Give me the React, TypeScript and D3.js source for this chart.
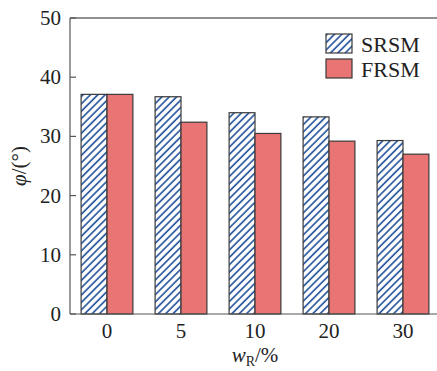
import * as d3 from "d3";

const categories = ["0", "5", "10", "20", "30"];
const seriesNames = ["SRSM", "FRSM"];
const srsmValues = [37.1, 36.7, 34.0, 33.3, 29.3];
const frsmValues = [37.1, 32.4, 30.5, 29.2, 27.0];
const yTicks = [0, 10, 20, 30, 40, 50];

const W = 437;
const H = 371;
const margin = { top: 18, right: -3, bottom: 57, left: 70 };
const FONT = '"Liberation Serif", "Times New Roman", Times, serif';
const RED = "#e87474";
const BLUE = "#1f4f9a";
const EDGE = "#3a3a3a";

export default function App() {
  const x0 = d3
    .scaleBand<string>()
    .domain(categories)
    .range([margin.left, W - margin.right])
    .paddingInner(0.3)
    .paddingOuter(0.15);
  const x1 = d3
    .scaleBand<string>()
    .domain(seriesNames)
    .range([0, x0.bandwidth()]);
  const y = d3
    .scaleLinear()
    .domain([0, 50])
    .range([H - margin.bottom, margin.top]);

  const series = [srsmValues, frsmValues];
  const fills = ["url(#hatch)", RED];

  return (
    <svg
      width={W}
      height={H}
      style={{ position: "absolute", left: 0, top: 0, background: "#fff", fontFamily: FONT }}
    >
      <defs>
        <pattern
          id="hatch"
          patternUnits="userSpaceOnUse"
          width={5.2}
          height={5.2}
          patternTransform="rotate(45)"
        >
          <rect width={5.2} height={5.2} fill="#fff" />
          <line x1={1} y1={0} x2={1} y2={5.2} stroke={BLUE} strokeWidth={1.6} />
        </pattern>
      </defs>

      {/* bars */}
      {categories.map((c, i) =>
        seriesNames.map((s, k) => {
          const v = series[k][i];
          return (
            <rect
              key={c + s}
              x={(x0(c) ?? 0) + (x1(s) ?? 0)}
              y={y(v)}
              width={x1.bandwidth()}
              height={y(0) - y(v)}
              fill={fills[k]}
              stroke={EDGE}
              strokeWidth={1.2}
            />
          );
        })
      )}

      {/* axes frame */}
      <line x1={margin.left} x2={margin.left} y1={y(0)} y2={y(50)} stroke="#555" strokeWidth={1.2} />
      <line x1={margin.left} x2={W} y1={y(0)} y2={y(0)} stroke="#555" strokeWidth={1.2} />
      <line x1={margin.left} x2={W} y1={y(50)} y2={y(50)} stroke="#222" strokeWidth={1.2} />

      {/* y ticks */}
      {yTicks.map((t) => (
        <g key={t}>
          <line x1={margin.left} x2={margin.left + 6} y1={y(t)} y2={y(t)} stroke="#555" strokeWidth={1.2} />
          <text x={margin.left - 9} y={y(t) + 7} textAnchor="end" fontSize={21} fill="#222">
            {t}
          </text>
        </g>
      ))}

      {/* x labels */}
      {categories.map((c) => (
        <text
          key={c}
          x={(x0(c) ?? 0) + x0.bandwidth() / 2}
          y={y(0) + 24}
          textAnchor="middle"
          fontSize={21}
          fill="#222"
        >
          {c}
        </text>
      ))}

      {/* axis titles */}
      <text x={255} y={362} textAnchor="middle" fontSize={21} fill="#222">
        <tspan fontStyle="italic">w</tspan>
        <tspan fontSize={14} dy={4}>R</tspan>
        <tspan dy={-4}>/%</tspan>
      </text>
      <text
        transform={`translate(26,${(y(0) + y(50)) / 2}) rotate(-90)`}
        textAnchor="middle"
        fontSize={21}
        fill="#222"
      >
        <tspan fontStyle="italic">φ</tspan>
        <tspan>/(°)</tspan>
      </text>

      {/* legend */}
      {seriesNames.map((s, k) => (
        <g key={s} transform={`translate(326,${34 + k * 25})`}>
          <rect width={26} height={19} fill={fills[k]} stroke={EDGE} strokeWidth={1.2} />
          <text x={35} y={18} fontSize={22} fill="#222">
            {s}
          </text>
        </g>
      ))}
    </svg>
  );
}
